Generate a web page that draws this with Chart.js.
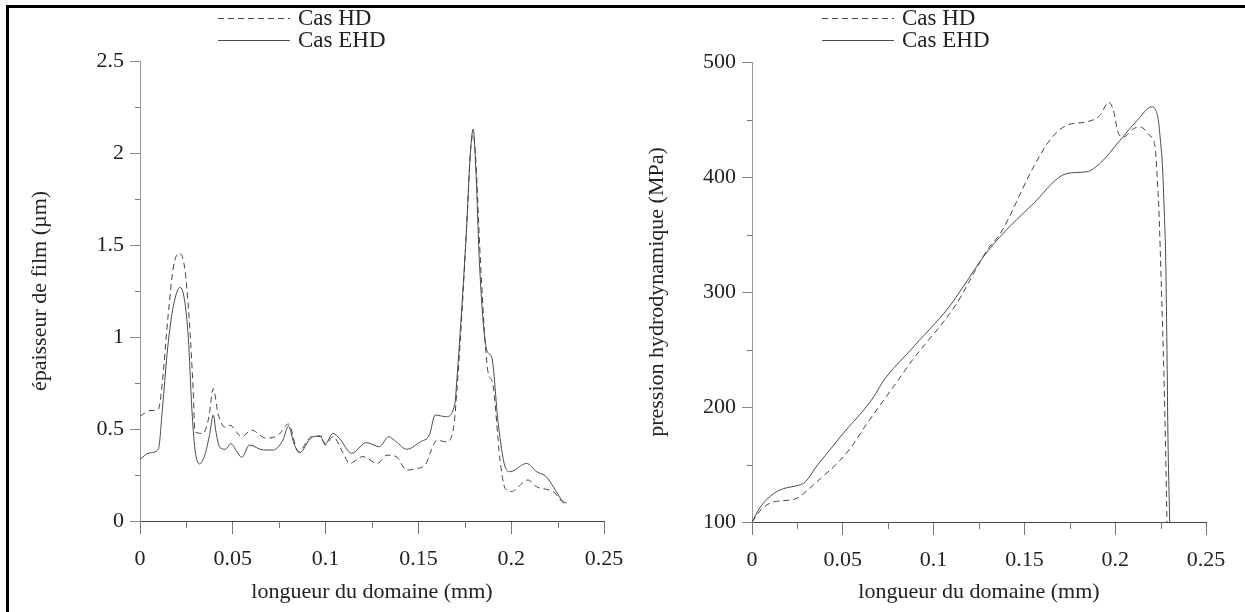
<!DOCTYPE html>
<html>
<head>
<meta charset="utf-8">
<script src="https://cdn.jsdelivr.net/npm/chart.js@4.4.1/dist/chart.umd.min.js"></script>
<style>
  html, body { margin: 0; padding: 0; background: #fff; }
  body { width: 1245px; height: 612px; position: relative; overflow: hidden; }
  .frame { position: absolute; left: 6px; top: 5px; right: -10px; bottom: -10px; border-top: 3px solid #000; border-left: 3px solid #000; }
  canvas { position: absolute; top: 0; }
  #filmChart { left: 0; }
  #pressureChart { left: 620px; }
</style>
</head>
<body>
<div class="frame"></div>
<canvas id="filmChart" width="650" height="612"></canvas>
<canvas id="pressureChart" width="625" height="612"></canvas>
<script>
// épaisseur de film (µm) vs longueur du domaine (mm)
const filmHdX = [0, 0.0054, 0.0099, 0.012, 0.015, 0.018, 0.021, 0.024, 0.0265, 0.0287, 0.0296, 0.034, 0.037, 0.0395, 0.042, 0.0458, 0.0485, 0.0548, 0.06, 0.068, 0.0745, 0.08, 0.0853, 0.0925, 0.098, 0.0997, 0.104, 0.1095, 0.113, 0.12, 0.128, 0.133, 0.138, 0.1437, 0.149, 0.154, 0.157, 0.16, 0.165, 0.169, 0.1706, 0.173, 0.176, 0.178, 0.1795, 0.181, 0.183, 0.186, 0.1877, 0.19, 0.194, 0.1967, 0.2, 0.209, 0.2137, 0.219, 0.2227, 0.228, 0.23];
const filmHd = [0.57, 0.6, 0.607, 0.75, 1.1, 1.38, 1.455, 1.38, 1.1, 0.7, 0.485, 0.476, 0.56, 0.72, 0.585, 0.51, 0.52, 0.458, 0.494, 0.45, 0.467, 0.527, 0.377, 0.458, 0.46, 0.413, 0.458, 0.368, 0.313, 0.35, 0.313, 0.358, 0.35, 0.277, 0.285, 0.31, 0.386, 0.44, 0.43, 0.51, 0.69, 1.05, 1.6, 2.0, 2.1, 1.95, 1.5, 0.966, 0.8, 0.75, 0.33, 0.178, 0.16, 0.223, 0.186, 0.172, 0.16, 0.1, 0.095];
const filmEhdX = [0, 0.005, 0.0099, 0.012, 0.015, 0.018, 0.0216, 0.024, 0.026, 0.028, 0.0295, 0.032, 0.035, 0.0375, 0.0395, 0.041, 0.043, 0.046, 0.049, 0.052, 0.0548, 0.059, 0.0664, 0.0718, 0.077, 0.08, 0.083, 0.086, 0.0925, 0.097, 0.0997, 0.104, 0.1078, 0.114, 0.122, 0.129, 0.134, 0.138, 0.1437, 0.151, 0.156, 0.159, 0.165, 0.1697, 0.1706, 0.173, 0.176, 0.178, 0.1795, 0.181, 0.183, 0.1868, 0.1895, 0.193, 0.1967, 0.1994, 0.2083, 0.2137, 0.219, 0.2227, 0.228, 0.23];
const filmEhd = [0.335, 0.37, 0.39, 0.6, 0.95, 1.17, 1.27, 1.2, 1.0, 0.6, 0.4, 0.31, 0.36, 0.47, 0.576, 0.48, 0.4, 0.39, 0.42, 0.38, 0.346, 0.413, 0.386, 0.386, 0.44, 0.516, 0.42, 0.371, 0.455, 0.462, 0.418, 0.476, 0.444, 0.368, 0.426, 0.404, 0.458, 0.431, 0.39, 0.43, 0.47, 0.576, 0.567, 0.64, 0.75, 1.1, 1.6, 2.0, 2.13, 1.9, 1.38, 0.93, 0.89, 0.53, 0.295, 0.268, 0.313, 0.268, 0.24, 0.186, 0.105, 0.098];

// pression hydrodynamique (MPa) vs longueur du domaine (mm)
const pressHdX = [0, 0.0055, 0.0119, 0.0238, 0.0284, 0.0376, 0.0468, 0.054, 0.0633, 0.0817, 0.087, 0.1127, 0.122, 0.13, 0.1367, 0.155, 0.164, 0.1733, 0.1844, 0.1917, 0.1964, 0.199, 0.2018, 0.2046, 0.21, 0.2138, 0.219, 0.222, 0.223, 0.224, 0.2255, 0.2268, 0.2278, 0.2285];
const pressHd = [100, 111.6, 117.4, 120, 124.7, 137.7, 150.8, 163.8, 185.6, 226, 238, 290, 316, 337.7, 350.8, 408.7, 432, 445, 448, 453.7, 465, 458, 437.7, 434.8, 442, 443.5, 436, 426, 403, 374, 300, 230, 160, 100];
const pressEhdX = [0, 0.0046, 0.0119, 0.0174, 0.0257, 0.0293, 0.0358, 0.042, 0.0486, 0.067, 0.0723, 0.087, 0.109, 0.1156, 0.13, 0.155, 0.1733, 0.1844, 0.1917, 0.2027, 0.212, 0.2202, 0.222, 0.2237, 0.225, 0.226, 0.227, 0.2278, 0.2285, 0.229, 0.23];
const pressEhd = [100, 113, 124.7, 129, 132, 134.8, 149, 161, 174, 208.7, 222.6, 249, 288, 303, 336, 377, 403, 404.6, 411.9, 432, 449, 461, 459, 450, 430, 410, 370, 330, 250, 180, 100];

const xTitle = "longueur du domaine (mm)";
const seriesLabels = ["Cas HD", "Cas EHD"];

Chart.defaults.font.family = "'Liberation Serif', 'Times New Roman', serif";
Chart.defaults.color = "#222";

const minorTicks = {
  id: "minorTicks",
  afterDraw(chart) {
    const ctx = chart.ctx;
    const { x, y } = chart.scales;
    ctx.save();
    ctx.strokeStyle = "#777";
    ctx.lineWidth = 1;
    x.ticks.forEach((tick, i) => {
      if (i % 2 === 0) return;
      const px = Math.round(x.getPixelForValue(tick.value)) + 0.5;
      ctx.beginPath();
      ctx.moveTo(px, x.top);
      ctx.lineTo(px, x.top + 7);
      ctx.stroke();
    });
    y.ticks.forEach((tick, i) => {
      if (i % 2 === 0) return;
      const py = Math.round(y.getPixelForValue(tick.value)) + 0.5;
      ctx.beginPath();
      ctx.moveTo(y.right - 5, py);
      ctx.lineTo(y.right, py);
      ctx.stroke();
    });
    ctx.restore();
  },
};

const lineLegend = {
  id: "lineLegend",
  afterDraw(chart, args, opts) {
    const ctx = chart.ctx;
    ctx.save();
    ctx.font = "23px 'Liberation Serif'";
    ctx.textBaseline = "middle";
    ctx.fillStyle = "#222";
    chart.data.datasets.forEach((ds, i) => {
      const y = Math.round(opts.y + i * opts.rowHeight) + 0.5;
      ctx.strokeStyle = ds.borderColor;
      ctx.lineWidth = 1;
      ctx.setLineDash(ds.borderDash || []);
      ctx.beginPath();
      ctx.moveTo(opts.x, y);
      ctx.lineTo(opts.x + opts.length, y);
      ctx.stroke();
      ctx.setLineDash([]);
      ctx.fillText(ds.label, opts.x + opts.length + opts.gap, y);
    });
    ctx.restore();
  },
};

function toPoints(xs, ys) {
  return xs.map((x, i) => ({ x, y: ys[i] }));
}

function makeDatasets(hdX, hd, ehdX, ehd) {
  return [
    {
      label: seriesLabels[0],
      data: toPoints(hdX, hd),
      borderColor: "#444",
      borderDash: [6, 4],
    },
    {
      label: seriesLabels[1],
      data: toPoints(ehdX, ehd),
      borderColor: "#4a4a4a",
    },
  ].map((ds) => ({ ...ds, borderWidth: 1, pointRadius: 0, cubicInterpolationMode: "monotone", fill: false }));
}

function majorTickColor(color) {
  return (c) => (c.index % 2 === 0 ? color : "rgba(0,0,0,0)");
}

function createChart(canvasId, datasets, cfg) {
  return new Chart(document.getElementById(canvasId), {
    type: "line",
    data: { datasets },
    plugins: [minorTicks, lineLegend],
    options: {
      responsive: false,
      animation: false,
      layout: { padding: { left: 0, right: cfg.padRight, top: cfg.top, bottom: 0 } },
      plugins: {
        legend: { display: false },
        tooltip: { enabled: false },
        lineLegend: { x: cfg.legendX, y: 18, rowHeight: 22, length: 72, gap: 8 },
      },
      scales: {
        x: {
          type: "linear",
          min: 0,
          max: 0.25,
          afterFit: (scale) => { scale.height = 612 - cfg.bottom; },
          ticks: {
            stepSize: 0.025,
            padding: 12,
            font: { size: 22 },
            maxRotation: 0,
            autoSkip: false,
            callback: (value, index) => (index % 2 === 0 ? String(Number(value.toFixed(3))) : ""),
          },
          grid: { drawOnChartArea: false, tickLength: 13, tickColor: majorTickColor("#777") },
          border: { color: "#444", width: 1 },
          title: { display: true, text: xTitle, font: { size: 22 }, padding: { top: 0, bottom: 7 } },
        },
        y: {
          min: cfg.yMin,
          max: cfg.yMax,
          afterFit: (scale) => { scale.width = cfg.yWidth; },
          ticks: {
            stepSize: cfg.yStep,
            padding: 6,
            font: { size: 22 },
            autoSkip: false,
            callback: (value, index) => (index % 2 === 0 ? String(Number(value.toFixed(2))) : ""),
          },
          grid: { drawOnChartArea: false, tickLength: 10, tickColor: majorTickColor("#888") },
          border: { color: "#999", width: 1 },
          title: { display: true, text: cfg.yTitle, font: { size: 22 }, padding: { top: cfg.titlePad, bottom: 0 } },
        },
      },
    },
  });
}

createChart("filmChart", makeDatasets(filmHdX, filmHd, filmEhdX, filmEhd), {
  yMin: 0, yMax: 2.5, yStep: 0.25,
  yTitle: "épaisseur de film (µm)",
  yWidth: 140, titlePad: 27,
  top: 61, bottom: 521, padRight: 46,
  legendX: 218,
});

createChart("pressureChart", makeDatasets(pressHdX, pressHd, pressEhdX, pressEhd), {
  yMin: 100, yMax: 500, yStep: 50,
  yTitle: "pression hydrodynamique (MPa)",
  yWidth: 132, titlePad: 24,
  top: 62, bottom: 522, padRight: 39,
  legendX: 202,
});
</script>
</body>
</html>
